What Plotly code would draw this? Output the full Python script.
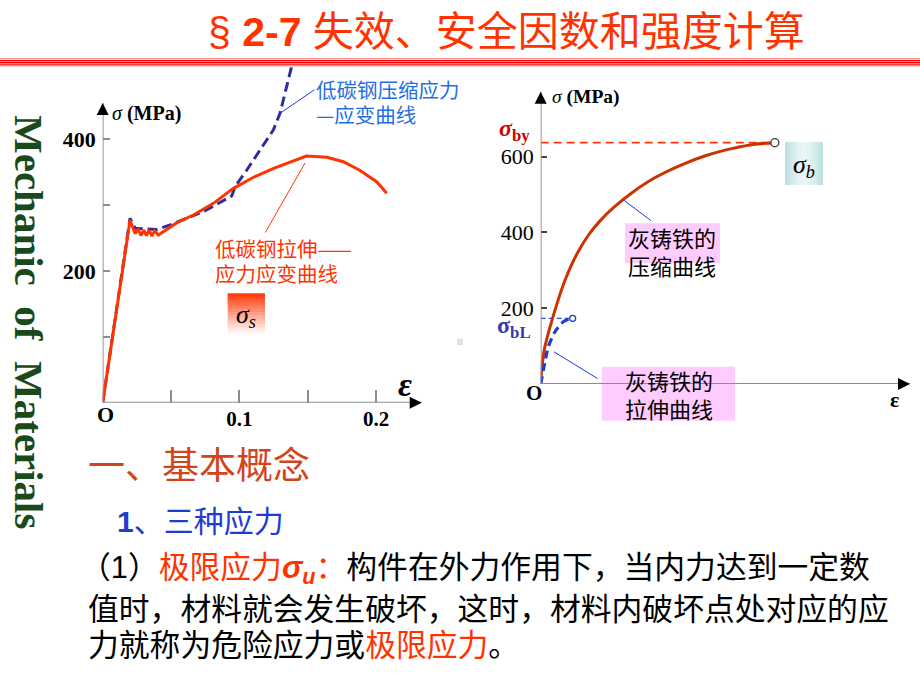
import plotly.graph_objects as go

W, H = 920, 690

# ---------------- data: low-carbon steel (left chart) ----------------
steel_tension_strain = [0, 0.020, 0.0237, 0.026, 0.028, 0.030, 0.032, 0.034, 0.036, 0.038,
                        0.0407, 0.0541, 0.0663, 0.081, 0.0956, 0.110, 0.125, 0.149,
                        0.164, 0.176, 0.188, 0.2004, 0.2078]
steel_tension_stress = [0, 277, 257, 263, 254, 262, 254, 262, 253, 261,
                        254.6, 273, 285, 302.7, 325.5, 342, 356, 374.6,
                        372.6, 366, 353, 335.6, 318]
steel_compress_strain = [0, 0.020, 0.0237, 0.0395, 0.0493, 0.0736, 0.0944, 0.0968,
                         0.1053, 0.115, 0.1248, 0.1297, 0.1341, 0.1385]
steel_compress_stress = [0, 280, 265, 263, 270, 290, 314, 328,
                         353, 384, 414, 439.4, 478, 513]
steel_x_ticks = [0.05, 0.1, 0.15, 0.2]
steel_x_ticktext = ["", "0.1", "", "0.2"]
steel_y_ticks = [100, 200, 300, 400]
steel_y_ticktext = ["", "200", "", "400"]

# ---------------- data: grey cast iron (right chart) ----------------
iron_compress_strain = [0, 0.003, 0.01, 0.0206, 0.0387, 0.052, 0.065, 0.085, 0.106, 0.13,
                        0.16, 0.2, 0.25, 0.31, 0.38, 0.45, 0.52, 0.58, 0.634]
iron_compress_stress = [0, 40, 92, 134, 195, 236, 272, 318, 357, 394,
                        430, 468, 507, 545, 578, 604, 622, 633, 637]
iron_tension_strain = [0, 0.0116, 0.0206, 0.0387, 0.0612, 0.0774, 0.0866]
iron_tension_stress = [0, 59, 98.5, 138, 164.5, 171.6, 173.4]
iron_y_ticks = [200, 400, 600]
iron_y_ticktext = ["200", "400", "600"]

# ---------------- geometry (pixels) ----------------
L_X0, L_Y0, L_XS, L_YS = 102.7, 402.7, 1367.0, 0.6585
L_XEND, L_YTOP = 421.7, 63.6
R_X0, R_Y0, R_XS, R_YS = 540.7, 384.0, 369.3, 0.3788
R_XEND, R_YTOP = 910.0, 91.7

steel_xmax = (L_XEND - L_X0) / L_XS
steel_ymax = (L_Y0 - L_YTOP) / L_YS
steel_axis_top = (L_Y0 - 103) / L_YS
iron_xmax = (R_XEND - R_X0) / R_XS
iron_ymax = (R_Y0 - R_YTOP) / R_YS


def px(x):
    return x / W


def py(y):
    return 1 - y / H


CJK = "Noto Sans CJK SC"
SERIF = "Liberation Serif"
RED = "#ff3300"
GREY = "#8c8c8c"

fig = go.Figure()

# left chart traces
fig.add_trace(go.Scatter(x=steel_compress_strain, y=steel_compress_stress, mode="lines",
                         line=dict(color="#2e2e9c", width=3, dash="10px,5px"),
                         xaxis="x", yaxis="y", hoverinfo="skip"))
fig.add_trace(go.Scatter(x=steel_tension_strain, y=steel_tension_stress, mode="lines",
                         line=dict(color=RED, width=3),
                         xaxis="x", yaxis="y", hoverinfo="skip"))

# right chart traces
sigma_by = iron_compress_stress[-1]
sigma_bL = iron_tension_stress[-1]
fig.add_trace(go.Scatter(x=[0, iron_compress_strain[-1]], y=[sigma_by, sigma_by], mode="lines",
                         line=dict(color=RED, width=1.8, dash="8px,5px"),
                         xaxis="x2", yaxis="y2", hoverinfo="skip"))
fig.add_trace(go.Scatter(x=[0, iron_tension_strain[-1]], y=[sigma_bL, sigma_bL], mode="lines",
                         line=dict(color="#3355dd", width=1.3, dash="5px,3px"),
                         xaxis="x2", yaxis="y2", hoverinfo="skip"))
fig.add_trace(go.Scatter(x=iron_compress_strain, y=iron_compress_stress, mode="lines",
                         line=dict(color="#cc3300", width=3, shape="spline", smoothing=0.8),
                         xaxis="x2", yaxis="y2", hoverinfo="skip"))
fig.add_trace(go.Scatter(x=iron_tension_strain, y=iron_tension_stress, mode="lines",
                         line=dict(color="#1a3fd6", width=3.2, dash="8px,5px", shape="spline",
                                   smoothing=0.6),
                         xaxis="x2", yaxis="y2", hoverinfo="skip"))
fig.add_trace(go.Scatter(x=[iron_compress_strain[-1]], y=[iron_compress_stress[-1]], mode="markers",
                         marker=dict(size=8, color="white", line=dict(color="#333333", width=1.3)),
                         xaxis="x2", yaxis="y2", hoverinfo="skip"))
fig.add_trace(go.Scatter(x=[iron_tension_strain[-1]], y=[iron_tension_stress[-1]], mode="markers",
                         marker=dict(size=6, color="white", line=dict(color="#1a3fd6", width=1.3)),
                         xaxis="x2", yaxis="y2", hoverinfo="skip"))

shapes = []
# title rules
for yy, col, wd in [(58.7, "#ff8c8c", 1.3), (60.6, "#ff0000", 1.2), (62.6, "#ff0000", 1.6),
                    (64.8, "#ff0000", 1.2), (66.0, "#ff9a9a", 0.8)]:
    shapes.append(dict(type="line", xref="paper", yref="paper", x0=0, x1=1,
                       y0=py(yy), y1=py(yy), line=dict(color=col, width=wd)))

# axis lines (grey) in data coordinates
shapes.append(dict(type="line", xref="x", yref="y", x0=0, y0=0, x1=steel_xmax, y1=0,
                   line=dict(color=GREY, width=1.8)))
shapes.append(dict(type="line", xref="x", yref="y", x0=0, y0=0, x1=0, y1=steel_axis_top,
                   line=dict(color=GREY, width=1.8)))
shapes.append(dict(type="line", xref="x2", yref="y2", x0=0, y0=0, x1=iron_xmax, y1=0,
                   line=dict(color=GREY, width=1.8)))
shapes.append(dict(type="line", xref="x2", yref="y2", x0=0, y0=0, x1=0, y1=iron_ymax,
                   line=dict(color=GREY, width=1.8)))

# sigma_s gradient box (red -> white)
bx0, bx1, by0, by1 = 227.7, 265.0, 293.3, 336.7
shapes.append(dict(type="rect", xref="paper", yref="paper", x0=px(bx0), x1=px(bx1),
                   y0=py(by1), y1=py(by0), line=dict(width=0), fillcolor="white",
                   layer="below"))
n = 14
for i in range(n):
    t = (i + 0.5) / n
    f = min(1.0, t ** 0.9 * 1.05)
    g = int(51 + (255 - 51) * f)
    b = int(255 * f)
    ya = by0 + (by1 - by0) * i / n
    yb = min(by1, by0 + (by1 - by0) * (i + 1) / n + 1.2)
    shapes.append(dict(type="rect", xref="paper", yref="paper", x0=px(bx0), x1=px(bx1),
                       y0=py(yb), y1=py(ya), line=dict(width=0),
                       fillcolor=f"rgb(255,{g},{b})", layer="below"))

# sigma_b teal box (edges darker, centre lighter)
cx0, cx1, cy0, cy1 = 785.0, 823.0, 142.0, 185.0
m = 12
for i in range(m):
    t = abs((i + 0.5) / m - 0.5) * 2
    c1 = (234, 246, 246)
    c2 = (186, 222, 222)
    col = tuple(int(c1[k] + (c2[k] - c1[k]) * t ** 1.5) for k in range(3))
    xa = cx0 + (cx1 - cx0) * i / m
    xb = min(cx1, cx0 + (cx1 - cx0) * (i + 1) / m + 1.0)
    shapes.append(dict(type="rect", xref="paper", yref="paper", x0=px(xa), x1=px(xb),
                       y0=py(cy1), y1=py(cy0), line=dict(width=0),
                       fillcolor="rgb(%d,%d,%d)" % col, layer="below"))

# pink label boxes
shapes.append(dict(type="rect", xref="paper", yref="paper", x0=px(625), x1=px(720),
                   y0=py(263.3), y1=py(223.3), line=dict(width=0), fillcolor="#ffccff",
                   layer="below"))
shapes.append(dict(type="rect", xref="paper", yref="paper", x0=px(601.7), x1=px(735),
                   y0=py(420.7), y1=py(366.7), line=dict(width=0), fillcolor="#ffccff",
                   layer="below"))
# small grey square artefact
shapes.append(dict(type="rect", xref="paper", yref="paper", x0=px(457), x1=px(463),
                   y0=py(345), y1=py(338.5), line=dict(width=0), fillcolor="#e2e2e2"))

ann = []


def text(t, x, y, size, color="black", family=CJK, xanchor="left", yanchor="middle", **kw):
    d = dict(text=t, x=px(x), y=py(y), xref="paper", yref="paper", showarrow=False,
             xanchor=xanchor, yanchor=yanchor,
             font=dict(family=family, size=size, color=color))
    d.update(kw)
    ann.append(d)


def arrowhead(xref, yref, x, y, axp, ayp):
    ann.append(dict(x=x, y=y, xref=xref, yref=yref, ax=axp, ay=ayp, text="",
                    showarrow=True, arrowhead=2, arrowsize=1.5, arrowwidth=1.6,
                    arrowcolor="black"))


def pointer(xref, yref, x, y, axp, ayp, color, width=1):
    ann.append(dict(x=x, y=y, xref=xref, yref=yref, ax=axp, ay=ayp, text="",
                    showarrow=True, arrowhead=0, arrowwidth=width, arrowcolor=color,
                    borderpad=0, standoff=0))


# axis arrow heads
arrowhead("x", "y", steel_xmax, 0, -6, 0)
arrowhead("x", "y", 0, steel_axis_top, 0, 6)
arrowhead("x2", "y2", iron_xmax, 0, -6, 0)
arrowhead("x2", "y2", 0, iron_ymax, 0, 6)

# pointer lines
k = steel_compress_strain.index(0.1297)
pointer("x", "y", steel_compress_strain[k], steel_compress_stress[k], 35, -24, "#2233ee")
pointer("x", "y", 0.148, 364, -40, 70, RED)
pointer("x2", "y2", 0.224, 486, 28, 21, "#2233ee")
pointer("x2", "y2", 0.036, 85, 44, 27, "#2233ee")

# title
text("§ <b>2-7</b> 失效、安全因数和强度计算", 206, 32, 41, RED,
     family="Liberation Sans, " + CJK)

# vertical side title
text("<b>Mechanic\u00a0\u00a0of\u00a0\u00a0Materials</b>", 29, 322, 41, "#1a4a1a",
     family=SERIF, xanchor="center", textangle=90)

# left chart texts
text("<i>σ</i> <b>(MPa)</b>", 110, 114, 20, "black", family=SERIF)
text("<b>O</b>", 105, 414, 22, "black", family=SERIF, xanchor="center")
text("<b><i>ε</i></b>", 405, 384, 34, "black", family=SERIF, xanchor="center")
text("低碳钢压缩应力", 314, 89, 20.5, "#1f6fe5")
text("—应变曲线", 314, 114, 20.5, "#1f6fe5")
text("低碳钢拉伸——", 213, 248, 20.5, RED)
text("应力应变曲线", 213, 273, 20.5, RED)
text("<i>σ</i><sub><i>s</i></sub>", 246, 316, 26, "black", family=SERIF, xanchor="center")

# right chart texts
text("<i>σ</i> <b>(MPa)</b>", 550, 96.5, 19.5, "black", family=SERIF)
text("<b>O</b>", 534, 393, 21, "black", family=SERIF, xanchor="center")
text("<b>ε</b>", 894, 399, 22, "black", family=SERIF, xanchor="center")
text("<b><i>σ</i></b><sub><b>by</b></sub>", 497, 130, 24, "#d40000", family=SERIF)
text("<b>σ</b><sub><b>bL</b></sub>", 495, 327, 24, "#3a3aa8", family=SERIF)
text("<i>σ</i><sub><i>b</i></sub>", 804, 166, 26, "black", family=SERIF, xanchor="center")
text("灰铸铁的", 626, 237, 22, "black")
text("压缩曲线", 626, 265, 22, "black")
text("灰铸铁的", 623, 380, 22, "black")
text("拉伸曲线", 623, 408, 22, "black")

# lower text block
text("一、基本概念", 86, 463, 37, "#d4441a")
text("<b>1</b>、三种应力", 115, 521, 30, "#1e3cd2", family="Liberation Sans, " + CJK)
text('（1）<span style="color:#ff3300">极限应力<b><i>σ</i></b><sub><b><i>u</i></b></sub>：</span>'
     '构件在外力作用下，当内力达到一定数', 78, 569, 30.8, "black",
     family="Liberation Sans, " + CJK)
text("值时，材料就会发生破坏，这时，材料内破坏点处对应的应", 86, 606, 30.8, "black")
text('力就称为危险应力或<span style="color:#ff3300">极限应力</span>。', 86, 642, 30.8, "black")

axis_common = dict(showgrid=False, zeroline=False, showline=False)

fig.update_layout(
    width=W, height=H, margin=dict(l=0, r=0, t=0, b=0),
    paper_bgcolor="white", plot_bgcolor="rgba(0,0,0,0)", showlegend=False,
    xaxis=dict(domain=[px(L_X0), px(L_XEND)], range=[0, steel_xmax], anchor="y",
               ticks="inside", ticklen=13, tickwidth=1.6, tickcolor=GREY,
               tickvals=steel_x_ticks, ticktext=steel_x_ticktext, ticklabelstandoff=1,
               tickfont=dict(family=SERIF, size=21, color="black", weight="bold"),
               **axis_common),
    yaxis=dict(domain=[py(L_Y0), py(L_YTOP)], range=[0, steel_ymax], anchor="x",
               ticks="inside", ticklen=7, tickwidth=1.6, tickcolor=GREY,
               tickvals=steel_y_ticks, ticktext=steel_y_ticktext, ticklabelstandoff=6,
               tickfont=dict(family=SERIF, size=22, color="black", weight="bold"),
               **axis_common),
    xaxis2=dict(domain=[px(R_X0), px(R_XEND)], range=[0, iron_xmax], anchor="y2",
                showticklabels=False, ticks="", **axis_common),
    yaxis2=dict(domain=[py(R_Y0), py(R_YTOP)], range=[0, iron_ymax], anchor="x2",
                ticks="inside", ticklen=6, tickwidth=1.6, tickcolor="#444444",
                tickvals=iron_y_ticks, ticktext=iron_y_ticktext, ticklabelstandoff=6,
                tickfont=dict(family=SERIF, size=22, color="black"),
                **axis_common),
    shapes=shapes,
    annotations=ann,
)

fig.write_html("out.html", config={"displayModeBar": False},
               post_script="document.body.style.margin='0px';document.body.style.overflow='hidden';")
